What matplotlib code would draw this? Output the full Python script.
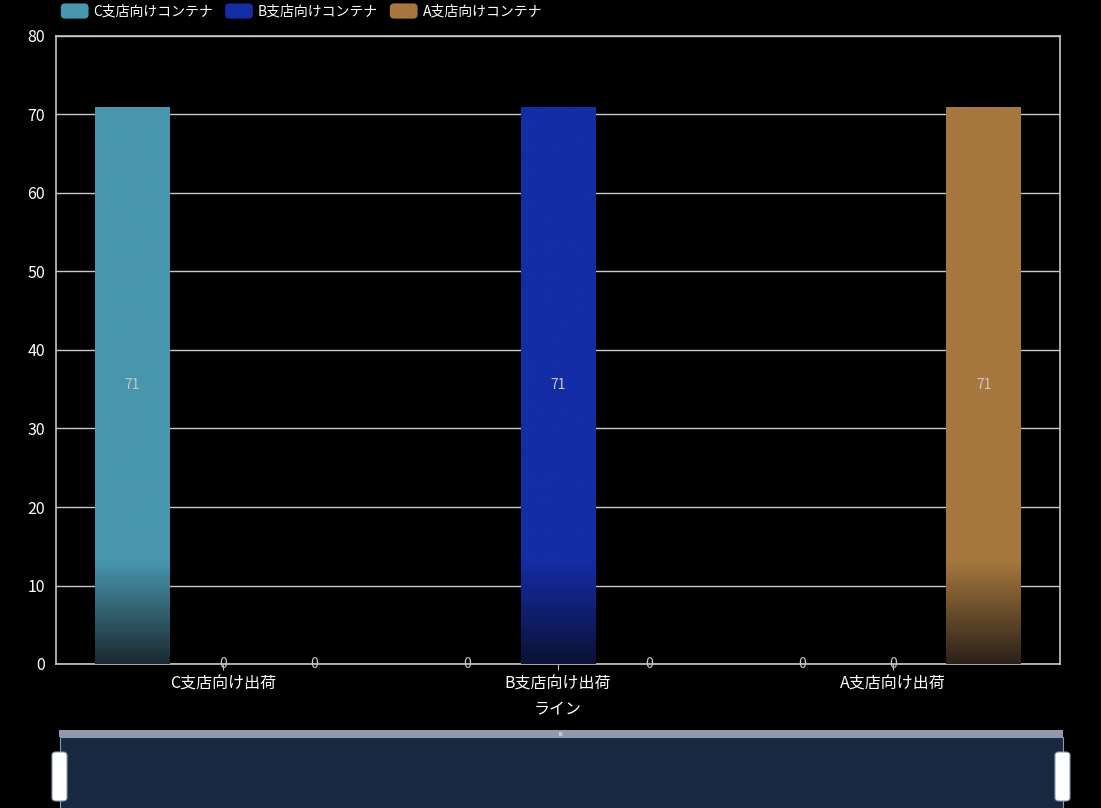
import numpy as np
import matplotlib
matplotlib.use("Agg")
import matplotlib.pyplot as plt
from matplotlib.patches import FancyBboxPatch, Rectangle, Patch
from matplotlib.legend_handler import HandlerPatch
from matplotlib.colors import to_rgb

plt.rcParams['font.family'] = ['Noto Sans CJK JP', 'DejaVu Sans']

categories = ["C支店向け出荷", "B支店向け出荷", "A支店向け出荷"]
series_names = ["C支店向けコンテナ", "B支店向けコンテナ", "A支店向けコンテナ"]
series_c = [71, 0, 0]
series_b = [0, 71, 0]
series_a = [0, 0, 71]
series_values = [series_c, series_b, series_a]
colors = ["#4796ae", "#142ca6", "#a6773e"]
dark_colors = ["#1b2a30", "#0b1234", "#2c2118"]
x_label = "ライン"
yticks = [0, 10, 20, 30, 40, 50, 60, 70, 80]

W, H = 1101, 808
fig = plt.figure(figsize=(W / 100, H / 100), dpi=100, facecolor="black")
ax = fig.add_axes([56 / W, 1 - 664 / H, (1060 - 56) / W, (664 - 36) / H])
ax.set_facecolor("black")

x = np.arange(len(categories))
offsets = [-0.272, 0.0, 0.272]
width = 0.224

for vals, off, col, dcol, name in zip(series_values, offsets, colors, dark_colors, series_names):
    bars = ax.bar(x + off, vals, width=width, color=col, label=name, zorder=3)
    for rect, v in zip(bars, vals):
        if v > 0:
            n = 256
            yy = np.linspace(0, v, n)
            t = np.clip(yy / 13.0, 0, 1)[:, None]
            c1 = np.array(to_rgb(col))
            c0 = np.array(to_rgb(dcol))
            img = (c0 * (1 - t) + c1 * t)[:, None, :]
            x0 = rect.get_x()
            im = ax.imshow(img, extent=[x0, x0 + rect.get_width(), 0, v], origin="lower",
                           aspect="auto", zorder=3.5, interpolation="bilinear")
            im.set_clip_path(rect)
        ax.text(rect.get_x() + rect.get_width() / 2, v / 2, f"{v}", ha="center", va="center",
                color="#c8c8c8", fontsize=10, zorder=5)

ax.set_xlim(-0.5, 2.5)
ax.set_ylim(0, 80)
ax.set_yticks(yticks)
ax.set_xticks(x)
ax.set_xticklabels(categories)
ax.yaxis.grid(True, color="#c8c8cc", linewidth=1.0, zorder=1)
ax.set_axisbelow(True)
ax.tick_params(axis="y", length=0, colors="white", labelsize=11.5, pad=8)
ax.tick_params(axis="x", length=4, color="#bbbbbb", colors="white", labelsize=11.5, pad=4)
for s in ax.spines.values():
    s.set_color("#c8c8cc")
    s.set_linewidth(1.2)
ax.set_xlabel(x_label, color="white", fontsize=11.5, labelpad=7)


class RoundHandler(HandlerPatch):
    def create_artists(self, legend, orig_handle, xdescent, ydescent, width, height, fontsize, trans):
        p = FancyBboxPatch((-xdescent, -ydescent - 1), width, height + 2,
                           boxstyle="round,pad=0,rounding_size=3",
                           facecolor=orig_handle.get_facecolor(), edgecolor="none", transform=trans)
        return [p]


_, labels = ax.get_legend_handles_labels()
phandles = [Patch(facecolor=c) for c in colors]
leg = fig.legend(phandles, labels, loc="upper left", bbox_to_anchor=(58 / W, 1.0 - 2 / H), ncol=3,
                 frameon=False, fontsize=10, labelcolor="white", handlelength=2.0, handleheight=1.0,
                 handletextpad=0.36, columnspacing=0.85, borderaxespad=0, borderpad=0.2,
                 handler_map={Patch: RoundHandler()})

# data-zoom slider
def fx(px):
    return px / W

def fy(py):
    return 1 - py / H

fig.patches.append(Rectangle((fx(59), fy(737)), fx(1063) - fx(59), fy(730) - fy(737),
                             transform=fig.transFigure, facecolor="#9499a8", edgecolor="none"))
fig.patches.append(Rectangle((fx(60), fy(810)), fx(1063) - fx(60), fy(737) - fy(810),
                             transform=fig.transFigure, facecolor="#172841", edgecolor="#8a9ab5",
                             linewidth=0.8))
fig.text(fx(561), fy(734), "III", color="white", fontsize=4, ha="center", va="center")
for hx in (52, 1055):
    fig.patches.append(FancyBboxPatch((fx(hx), fy(801)), fx(15), fy(752) - fy(801),
                                      boxstyle="round,pad=0,rounding_size=0.004",
                                      transform=fig.transFigure, facecolor="white",
                                      edgecolor="#8a9ab5", linewidth=0.8))

fig.savefig("out.png", dpi=100, facecolor="black")
